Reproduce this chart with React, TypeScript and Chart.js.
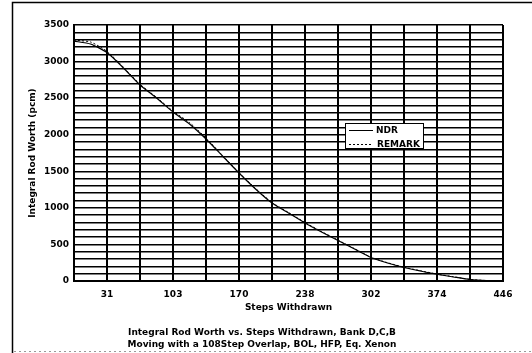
import { useEffect, useRef } from 'react';
import { Chart, registerables } from 'chart.js';

Chart.register(...registerables);

// Category axis at half-grid resolution; labels every 4th position
const stepLabels = ['', '', '31', '', '', '', '103', '', '', '', '170', '', '', '', '238', '', '', '', '302', '', '', '', '374', '', '', '', '446'];
const ndrWorth = [3280, 3240, 3124, 2912, 2680, 2502, 2310, 2146, 1941, 1709, 1476, 1258, 1066, 930, 793, 670, 554, 437, 321, 246, 185, 137, 92, 55, 20, 5, 0];
const remarkWorth = [3292, 3268, 3140, 2922, 2690, 2512, 2322, 2166, 1956, 1716, 1482, 1266, 1074, 936, 800, 676, 560, 442, 326, 250, 189, 140, 95, 58, 22, 6, 0];
const yTickLabels = [0, 500, 1000, 1500, 2000, 2500, 3000, 3500];
const seriesNames = ['NDR', 'REMARK'];
const xTitle = 'Steps Withdrawn';
const yTitle = 'Integral Rod Worth (pcm)';
const chartTitle = ['Integral Rod Worth vs. Steps Withdrawn, Bank D,C,B', 'Moving with a 108Step Overlap, BOL, HFP, Eq. Xenon'];

const FONT = 'DejaVu Sans';

const framePlugin = {
  id: 'frame',
  afterDraw(chart: any) {
    const ctx = chart.ctx;
    ctx.save();
    ctx.strokeStyle = '#000';
    ctx.lineWidth = 1.5;
    ctx.beginPath();
    ctx.moveTo(12.5, 353);
    ctx.lineTo(12.5, 2.5);
    ctx.lineTo(532, 2.5);
    ctx.stroke();
    ctx.strokeStyle = '#999';
    ctx.lineWidth = 1;
    ctx.setLineDash([2, 3]);
    ctx.beginPath();
    ctx.moveTo(14, 351.5);
    ctx.lineTo(532, 351.5);
    ctx.stroke();
    ctx.restore();
  },
};

const legendPlugin = {
  id: 'boxLegend',
  afterDatasetsDraw(chart: any) {
    const ctx = chart.ctx;
    const x0 = 345.5, y0 = 123.5, w = 78, h = 25;
    ctx.save();
    ctx.fillStyle = '#fff';
    ctx.fillRect(x0, y0, w, h);
    ctx.strokeStyle = '#000';
    ctx.lineWidth = 1;
    ctx.strokeRect(x0, y0, w, h);
    ctx.font = `bold 9px "${FONT}"`;
    ctx.textBaseline = 'middle';
    ctx.fillStyle = '#000';
    ctx.beginPath();
    ctx.moveTo(349, 130.5);
    ctx.lineTo(373, 130.5);
    ctx.stroke();
    ctx.fillText(seriesNames[0], 376, 131);
    ctx.setLineDash([2, 2]);
    ctx.beginPath();
    ctx.moveTo(349, 144.5);
    ctx.lineTo(373, 144.5);
    ctx.stroke();
    ctx.fillText(seriesNames[1], 377, 145);
    ctx.restore();
  },
};

export default function App() {
  const ref = useRef<HTMLCanvasElement>(null);
  useEffect(() => {
    document.body.style.margin = '0';
    const chart = new Chart(ref.current!, {
      type: 'line',
      data: {
        labels: stepLabels,
        datasets: [
          {
            label: seriesNames[0],
            data: ndrWorth,
            borderColor: '#000',
            borderWidth: 1.2,
            pointRadius: 0,
            tension: 0.2,
            fill: false,
          },
          {
            label: seriesNames[1],
            data: remarkWorth,
            borderColor: '#000',
            borderWidth: 1,
            borderDash: [2, 2],
            pointRadius: 0,
            tension: 0.2,
            fill: false,
          },
        ],
      },
      options: {
        responsive: false,
        animation: false,
        layout: { padding: { top: 25, right: 8, left: 0, bottom: 0 } },
        plugins: {
          legend: { display: false },
          tooltip: { enabled: false },
          title: {
            display: true,
            position: 'bottom',
            text: chartTitle,
            color: '#000',
            font: { family: FONT, size: 9, weight: 'bold', lineHeight: 1.25 },
            padding: { top: 0, bottom: 3 },
          },
        },
        scales: {
          x: {
            type: 'category',
            grid: {
              color: (c: any) => (c.index % 2 === 0 ? '#000' : 'rgba(0,0,0,0)'),
              lineWidth: 2,
              drawTicks: false,
            },
            border: { color: '#000', width: 2 },
            ticks: {
              autoSkip: false,
              maxRotation: 0,
              padding: 8,
              color: '#000',
              font: { family: FONT, size: 9, weight: 'bold' },
            },
            title: {
              display: true,
              text: xTitle,
              color: '#000',
              font: { family: FONT, size: 9, weight: 'bold', lineHeight: 1.25 },
              padding: { top: 0, bottom: 14 },
            },
            afterFit: (s: any) => { s.height = 46.5; },
          },
          y: {
            min: 0,
            max: 3500,
            grid: { color: '#000', lineWidth: 1.5, drawTicks: false },
            border: { color: '#000', width: 2 },
            ticks: {
              stepSize: 100,
              autoSkip: false,
              padding: 5,
              color: '#000',
              font: { family: FONT, size: 9, weight: 'bold' },
              callback: (v: any) => (yTickLabels.includes(Number(v)) ? String(v) : ''),
            },
            title: {
              display: true,
              text: yTitle,
              color: '#000',
              font: { family: FONT, size: 9, weight: 'bold', lineHeight: 1.25 },
              padding: { top: 27, bottom: 0 },
            },
            afterFit: (s: any) => { s.width = 74; },
          },
          yRight: {
            position: 'right',
            min: 0,
            max: 3500,
            grid: { display: false, drawTicks: false },
            border: { display: false },
            ticks: { display: false },
            afterFit: (s: any) => { s.width = 21; },
          },
        },
      },
      plugins: [framePlugin, legendPlugin],
    });
    return () => chart.destroy();
  }, []);
  return <canvas ref={ref} width={532} height={353} style={{ display: 'block', background: '#fff' }} />;
}
